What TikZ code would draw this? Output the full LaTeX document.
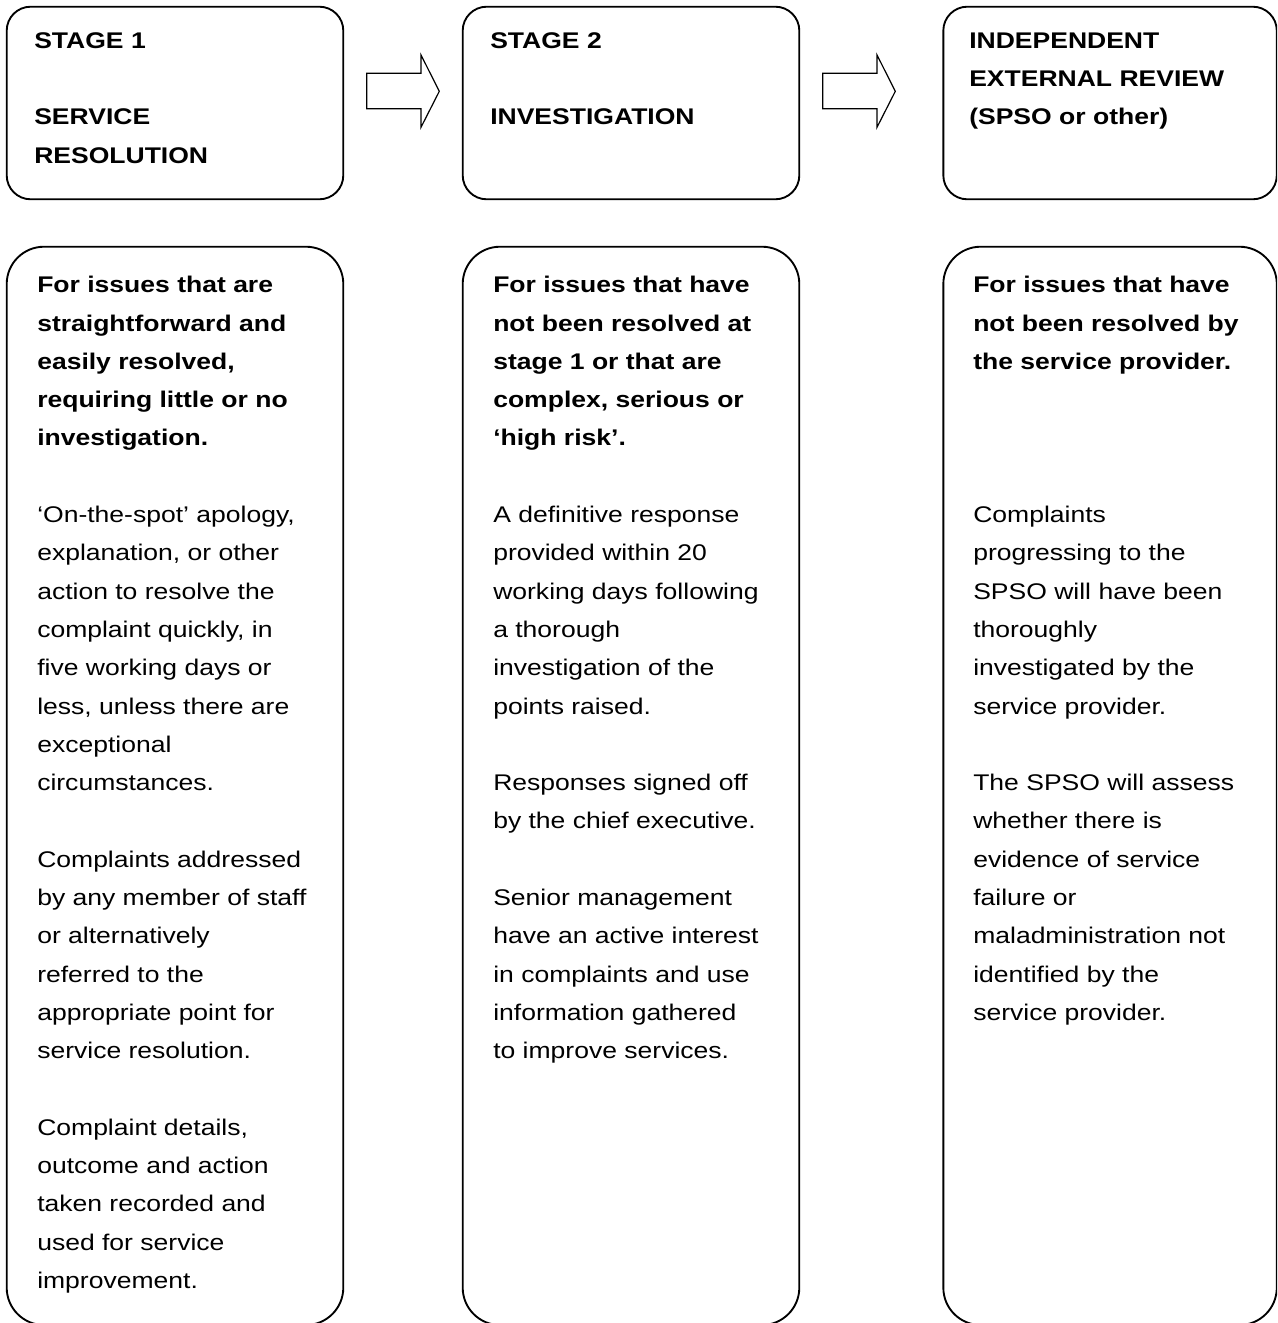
\documentclass[tikz,border=0pt]{standalone}
\usepackage{fontspec}
\setmainfont{Liberation Sans}[FakeStretch=1.17]
\newcommand{\blk}{28.725pt}
\begin{document}
\begin{tikzpicture}[x=0.75pt,y=-0.75pt,
  stagebox/.style={draw, line width=1.4pt, rounded corners=18pt, minimum width=252.45pt, minimum height=144.45pt, inner sep=0pt},
  descbox/.style={draw, line width=1.4pt, rounded corners=28pt, minimum width=252.45pt, minimum height=808.7pt, inner sep=0pt},
  lastcol/.style={minimum width=250.1pt},
  blockarrow/.style={draw, line width=0.9pt, line join=miter},
  txt/.style={align=left, inner sep=0pt, anchor=base west, font=\fontsize{17}{28.725}\selectfont}]
\useasboundingbox (0,0) rectangle (1277,1323);
\clip (0,0) rectangle (1277,1323);
% top stage boxes
\node[stagebox] (s1) at (175,103) {};
\node[stagebox] (s2) at (631,103) {};
\node[stagebox, lastcol] (s3) at (1110.05,103) {};
% description boxes
\node[descbox] (d1) at (175,785.85) {};
\node[descbox] (d2) at (631,785.85) {};
\node[descbox, lastcol] (d3) at (1110.05,785.85) {};
% block arrows
\draw[blockarrow] (366.7,73.3) -- (421,73.3) -- (421,55) -- (439.3,91.3) -- (421,127.3) -- (421,108.7) -- (366.7,108.7) -- cycle;
\draw[blockarrow] (822.7,73.3) -- (877,73.3) -- (877,55) -- (895.3,91.3) -- (877,127.3) -- (877,108.7) -- (822.7,108.7) -- cycle;
% stage texts (anchored at the baseline of their last line)
\node[txt] (s1t) at (34,163.2) {\textbf{STAGE 1}\\[\blk]\textbf{SERVICE}\\\textbf{RESOLUTION}};
\node[txt] (s2t) at (490,124.9) {\textbf{STAGE 2}\\[\blk]\textbf{INVESTIGATION}};
\node[txt] (s3t) at (969,124.9) {\textbf{INDEPENDENT}\\\textbf{EXTERNAL REVIEW}\\\textbf{(SPSO or other)}};
% description texts (anchored at the baseline of their last line)
\node[txt] (d1t) at (37,1288.5) {\textbf{For issues that are}\\\textbf{straightforward and}\\\textbf{easily resolved,}\\\textbf{requiring little or no}\\\textbf{investigation.}\\[\blk]
‘On-the-spot’ apology,\\explanation, or other\\action to resolve the\\complaint quickly, in\\five working days or\\less, unless there are\\exceptional\\circumstances.\\[\blk]
Complaints addressed\\by any member of staff\\or alternatively\\referred to the\\appropriate point for\\service resolution.\\[\blk]
Complaint details,\\outcome and action\\taken recorded and\\used for service\\improvement.};
\node[txt] (d2t) at (493,1058.7) {\textbf{For issues that have}\\\textbf{not been resolved at}\\\textbf{stage 1 or that are}\\\textbf{complex, serious or}\\\textbf{‘high risk’.}\\[\blk]
A definitive response\\provided within 20\\working days following\\a thorough\\investigation of the\\points raised.\\[\blk]
Responses signed off\\by the chief executive.\\[\blk]
Senior management\\have an active interest\\in complaints and use\\information gathered\\to improve services.};
\node[txt] (d3t) at (973,1020.4) {\textbf{For issues that have}\\\textbf{not been resolved by}\\\textbf{the service provider.}\\[86.175pt]
Complaints\\progressing to the\\SPSO will have been\\thoroughly\\investigated by the\\service provider.\\[\blk]
The SPSO will assess\\whether there is\\evidence of service\\failure or\\maladministration not\\identified by the\\service provider.};
\end{tikzpicture}
\end{document}
